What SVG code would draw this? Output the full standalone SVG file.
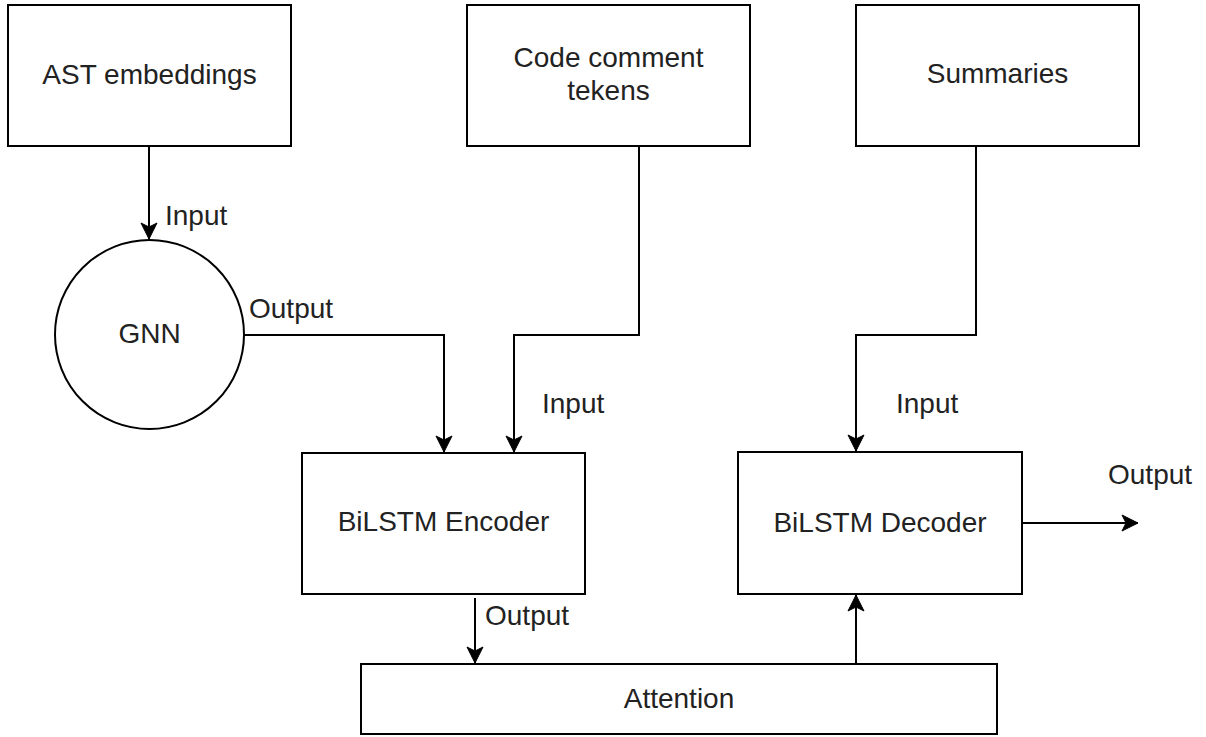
<svg xmlns="http://www.w3.org/2000/svg" width="1206" height="737" viewBox="0 0 1206 737">
<style>
.box{fill:#fff;stroke:#000;stroke-width:2}
.t{font-family:"Liberation Sans",Arial,sans-serif;font-size:28px;fill:#222;text-anchor:middle}
.l{font-family:"Liberation Sans",Arial,sans-serif;font-size:28px;fill:#222;text-anchor:start}
.c{fill:none;stroke:#000;stroke-width:2}
</style>
<defs>
<marker id="arr" markerUnits="userSpaceOnUse" markerWidth="20" markerHeight="20" viewBox="0 0 20 20" refX="17" refY="10" orient="auto">
<path d="M1,2 L17,10 L1,18 L5,10 z" fill="#000" stroke="#000" stroke-width="1"/>
</marker>
</defs>
<rect width="1206" height="737" fill="#fff"/>
<g id="connectors">
<path class="c" d="M149,146 V239" marker-end="url(#arr)"/>
<path class="c" d="M244,335 H444 V452" marker-end="url(#arr)"/>
<path class="c" d="M639,146 V335 H514 V452" marker-end="url(#arr)"/>
<path class="c" d="M976,146 V335 H856 V451" marker-end="url(#arr)"/>
<path class="c" d="M475,598 V663" marker-end="url(#arr)"/>
<path class="c" d="M856,664 V595" marker-end="url(#arr)"/>
<path class="c" d="M1022,523 H1138" marker-end="url(#arr)"/>
</g>
<g id="labels">
<text class="l" x="165" y="225">Input</text>
<text class="l" x="249" y="318">Output</text>
<text class="l" x="542" y="413">Input</text>
<text class="l" x="896" y="413">Input</text>
<text class="l" x="1108" y="484">Output</text>
<text class="l" x="485" y="625">Output</text>
</g>
<g id="ast"><rect class="box" x="8" y="5" width="283" height="141"/><text class="t" x="149.5" y="84">AST embeddings</text></g>
<g id="code"><rect class="box" x="467" y="5" width="283" height="141"/><text class="t" x="608.5" y="67">Code comment</text><text class="t" x="608.5" y="100">tekens</text></g>
<g id="summaries"><rect class="box" x="856" y="5" width="283" height="141"/><text class="t" x="997.5" y="83">Summaries</text></g>
<g id="gnn"><circle class="box" cx="149.5" cy="334.5" r="94.5"/><text class="t" x="149.5" y="343">GNN</text></g>
<g id="encoder"><rect class="box" x="302" y="453" width="283" height="141"/><text class="t" x="443.5" y="531">BiLSTM Encoder</text></g>
<g id="decoder"><rect class="box" x="738" y="452" width="284" height="142"/><text class="t" x="880" y="532">BiLSTM Decoder</text></g>
<g id="attention"><rect class="box" x="361" y="664" width="636" height="70"/><text class="t" x="679" y="708">Attention</text></g>
</svg>
